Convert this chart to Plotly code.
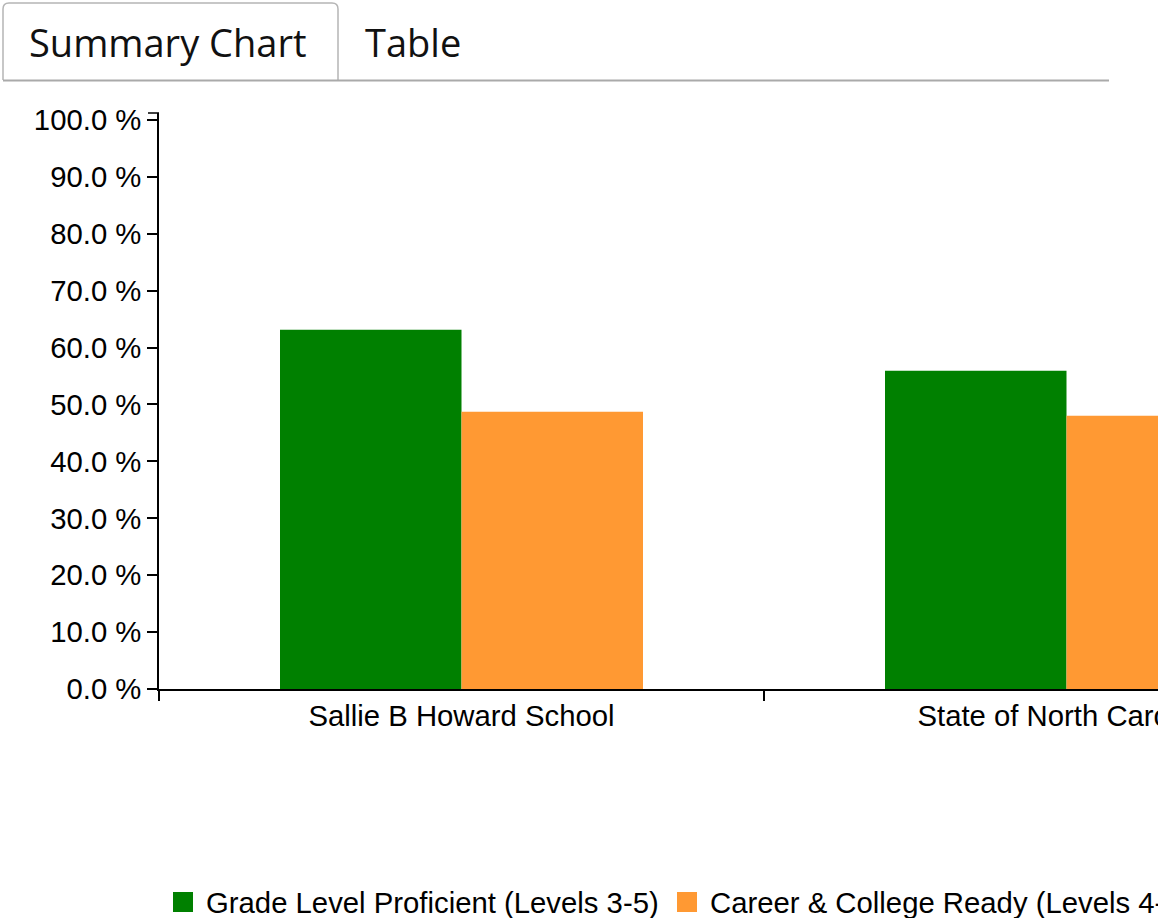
import plotly.graph_objects as go

categories = ["Sallie B Howard School", "State of North Carolina"]
series_names = ["Grade Level Proficient (Levels 3-5)", "Career & College Ready (Levels 4-5)"]
grade_level = [63.1, 55.9]
college_ready = [48.7, 48.0]
colors = ["#008000", "#ff9933"]
tab_labels = ["Summary Chart", "Table"]
y_ticks = [0, 10, 20, 30, 40, 50, 60, 70, 80, 90, 100]
y_ticktext = [f"{v:.1f} %" for v in y_ticks]

W, H = 1158, 918
L, T, B = 159, 113, 229
PW = W - L
PH = H - T - B


def xp(px):
    return (px - L) / PW


def yp(py):
    return (H - B - py) / PH


fig = go.Figure()
for name, vals, col in zip(series_names, [grade_level, college_ready], colors):
    fig.add_trace(go.Bar(x=categories, y=vals, name=name, marker_color=col,
                         marker_line_width=0, showlegend=False))

axis_font = dict(family="Liberation Sans, Arial, sans-serif", size=29.3, color="#000")

fig.update_layout(
    width=W, height=H,
    margin=dict(l=L, r=0, t=T, b=B, pad=0, autoexpand=False),
    paper_bgcolor="white", plot_bgcolor="white",
    barmode="group", bargap=0.4, bargroupgap=0,
    font=axis_font,
    xaxis=dict(range=[-0.5, -0.5 + PW / 605.0], showline=True, linecolor="#000", linewidth=1.5,
               ticks="outside", tickson="boundaries", ticklen=10, tickwidth=1.5, tickcolor="#000",
               showgrid=False, zeroline=False, tickfont=axis_font, fixedrange=True,
               automargin=False),
    yaxis=dict(range=[0, 101.2], tickmode="array", tickvals=y_ticks, ticktext=y_ticktext,
               showline=True, linecolor="#000", linewidth=1.5,
               ticks="outside", ticklen=10, tickwidth=1.5, tickcolor="#000",
               showgrid=False, zeroline=False, tickfont=axis_font, fixedrange=True,
               automargin=False),
    showlegend=False,
)

shapes = []
# top outer tick of y axis
shapes.append(dict(type="line", xref="paper", yref="paper", x0=xp(148), x1=xp(159), y0=1, y1=1,
                   line=dict(color="#000", width=1.5)))
# tab outline
path = (f"M {xp(3)},{yp(80)} L {xp(3)},{yp(9)} Q {xp(3)},{yp(3)} {xp(9)},{yp(3)} "
        f"L {xp(332)},{yp(3)} Q {xp(338)},{yp(3)} {xp(338)},{yp(9)} L {xp(338)},{yp(80)}")
shapes.append(dict(type="path", xref="paper", yref="paper", path=path,
                   line=dict(color="#b5b5b5", width=1.5)))
shapes.append(dict(type="line", xref="paper", yref="paper", x0=xp(3), x1=xp(1109), y0=yp(80.5), y1=yp(80.5),
                   line=dict(color="#aaaaaa", width=2)))
# legend squares
leg_sq_x = [173, 677]
for sx, col in zip(leg_sq_x, colors):
    shapes.append(dict(type="rect", xref="paper", yref="paper", x0=xp(sx), x1=xp(sx + 20),
                       y0=yp(912), y1=yp(892), fillcolor=col, line=dict(width=0)))
fig.update_layout(shapes=shapes)

annotations = []
tab_x = [27, 363]
for tx, lab in zip(tab_x, tab_labels):
    annotations.append(dict(xref="paper", yref="paper", x=xp(tx), y=yp(42), text=lab, showarrow=False,
                            xanchor="left", yanchor="middle",
                            font=dict(family="Open Sans, Noto Sans, sans-serif", size=38, color="#111")))
leg_tx = [204, 708]
for tx, name in zip(leg_tx, series_names):
    annotations.append(dict(xref="paper", yref="paper", x=xp(tx), y=yp(902), text=name, showarrow=False,
                            xanchor="left", yanchor="middle", font=axis_font))
fig.update_layout(annotations=annotations)

fig.write_html("out.html", post_script="document.body.style.margin='0';",
               config={"displayModeBar": False})
